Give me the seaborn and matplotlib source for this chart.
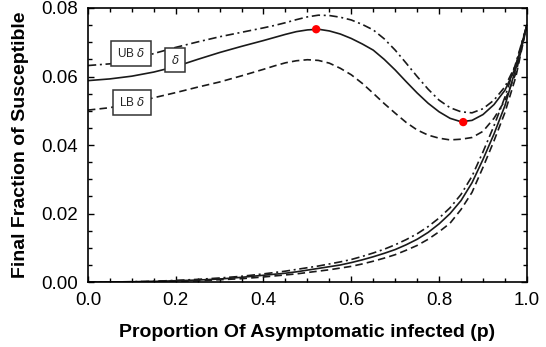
import numpy as np
import pandas as pd
import matplotlib
matplotlib.use("Agg")
import matplotlib.pyplot as plt
from matplotlib.ticker import MultipleLocator
import seaborn as sns

# ---- data ----
p = [0.0, 0.05, 0.1, 0.15, 0.2, 0.25, 0.3, 0.35, 0.4, 0.425, 0.45, 0.475, 0.5,
     0.525, 0.55, 0.575, 0.6, 0.625, 0.65, 0.675, 0.7, 0.725, 0.75, 0.775, 0.8,
     0.825, 0.85, 0.875, 0.9, 0.925, 0.95, 0.975, 1.0]

delta_upper = [0.0588, 0.0593, 0.0601, 0.0613, 0.0629, 0.0650, 0.0670, 0.0688, 0.0705,
               0.0714, 0.0723, 0.0731, 0.0736, 0.0738, 0.0733, 0.0724, 0.0711, 0.0695,
               0.0677, 0.0650, 0.0619, 0.0585, 0.0552, 0.0522, 0.0497, 0.0478, 0.0468,
               0.0472, 0.0489, 0.0518, 0.0560, 0.0628, 0.0750]
ub_upper = [0.0632, 0.0637, 0.0648, 0.0667, 0.0685, 0.0701, 0.0716, 0.0729, 0.0742,
            0.0749, 0.0757, 0.0766, 0.0774, 0.0779, 0.0778, 0.0773, 0.0765, 0.0752,
            0.0736, 0.0710, 0.0677, 0.0639, 0.0600, 0.0563, 0.0531, 0.0509, 0.0497,
            0.0494, 0.0506, 0.0531, 0.0570, 0.0635, 0.0750]
lb_upper = [0.0502, 0.0509, 0.0522, 0.0538, 0.0553, 0.0569, 0.0584, 0.0602, 0.0621,
            0.0631, 0.0640, 0.0646, 0.0649, 0.0647, 0.0639, 0.0624, 0.0605, 0.0580,
            0.0551, 0.0521, 0.0493, 0.0466, 0.0444, 0.0429, 0.0420, 0.0415, 0.0417,
            0.0422, 0.0440, 0.0478, 0.0530, 0.0610, 0.0750]

delta_lower = [0.0, 0.00003, 0.0001, 0.0002, 0.0004, 0.0006, 0.0009, 0.0014, 0.0020,
               0.0023, 0.0026, 0.0030, 0.0035, 0.0040, 0.0045, 0.0050, 0.0057, 0.0065,
               0.0074, 0.0084, 0.0095, 0.0109, 0.0125, 0.0145, 0.0170, 0.0200, 0.0238,
               0.0290, 0.0358, 0.0432, 0.0515, 0.0625, 0.0750]
ub_lower = [0.0, 0.00004, 0.00012, 0.00025, 0.0005, 0.0008, 0.0012, 0.0017, 0.0024,
            0.0028, 0.0032, 0.0037, 0.0042, 0.0047, 0.0053, 0.0059, 0.0066, 0.0075,
            0.0085, 0.0096, 0.0109, 0.0124, 0.0141, 0.0162, 0.0187, 0.0217, 0.0256,
            0.0309, 0.0380, 0.0456, 0.0540, 0.0640, 0.0750]
lb_lower = [0.0, 0.00002, 0.00007, 0.00015, 0.0003, 0.0004, 0.0007, 0.0010, 0.0015,
            0.0018, 0.0021, 0.0024, 0.0028, 0.0032, 0.0036, 0.0041, 0.0046, 0.0053,
            0.0061, 0.0070, 0.0080, 0.0093, 0.0107, 0.0125, 0.0147, 0.0172, 0.0212,
            0.0262, 0.0335, 0.0412, 0.0495, 0.0600, 0.0750]

marker_p = [0.52, 0.855]
marker_v = [0.0738, 0.0467]

label_texts = ["UB $\\delta$", "$\\delta$", "LB $\\delta$"]
label_p = [0.099, 0.199, 0.100]
label_v = [0.0667, 0.0648, 0.0525]

xticks = [0.0, 0.2, 0.4, 0.6, 0.8, 1.0]
yticks = [0.00, 0.02, 0.04, 0.06, 0.08]
xlabel = "Proportion Of Asymptomatic infected (p)"
ylabel = "Final Fraction of Susceptible"

# ---- style ----
sns.set_style("ticks")
plt.rcParams["font.family"] = ["Liberation Sans", "DejaVu Sans"]
plt.rcParams["mathtext.fontset"] = "dejavusans"
plt.rcParams["xtick.direction"] = "in"
plt.rcParams["ytick.direction"] = "in"

fig = plt.figure(figsize=(5.46, 3.47), dpi=100)
ax = fig.add_axes([0.161, 0.187, 0.804, 0.790])

line_col = "#1a1a1a"
lw = 1.2
series = [
    (delta_upper, "-"), (ub_upper, (0, (5, 2.2, 1.2, 2.2))), (lb_upper, (0, (4.5, 2.5))),
    (delta_lower, "-"), (ub_lower, (0, (5, 2.2, 1.2, 2.2))), (lb_lower, (0, (4.5, 2.5))),
]
for vals, ls in series:
    df = pd.DataFrame({"p": p, "v": vals})
    sns.lineplot(data=df, x="p", y="v", ax=ax, color=line_col, linewidth=lw,
                 linestyle=ls, sort=False, estimator=None)

sns.scatterplot(x=marker_p, y=marker_v, ax=ax, color="#ff0000", s=36,
                edgecolor="none", zorder=5)

for t, xp, yv in zip(label_texts, label_p, label_v):
    ax.text(xp, yv, t, ha="center", va="center", fontsize=8.5, color="#222222",
            zorder=6,
            bbox=dict(boxstyle="square,pad=0.5", facecolor="white",
                      edgecolor="#333333", linewidth=1.1))

ax.set_xlim(0, 1)
ax.set_ylim(0, 0.08)
ax.set_xticks(xticks)
ax.set_yticks(yticks)
ax.set_xticklabels([f"{t:.1f}" for t in xticks])
ax.set_yticklabels([f"{t:.2f}" for t in yticks])
ax.xaxis.set_minor_locator(MultipleLocator(0.05))
ax.yaxis.set_minor_locator(MultipleLocator(0.005))
ax.tick_params(which="both", direction="in", top=True, right=True,
               width=1.0, color="black")
ax.tick_params(which="major", length=4, labelsize=13.5, pad=7, labelcolor="black")
ax.tick_params(which="minor", length=3)
for s in ax.spines.values():
    s.set_linewidth(1.2)
    s.set_color("black")

ax.set_xlabel(xlabel, fontsize=14, fontweight="bold", labelpad=11, color="black")
ax.set_ylabel(ylabel, fontsize=14, fontweight="bold", labelpad=9, color="black")

fig.savefig("out.png", dpi=100)
